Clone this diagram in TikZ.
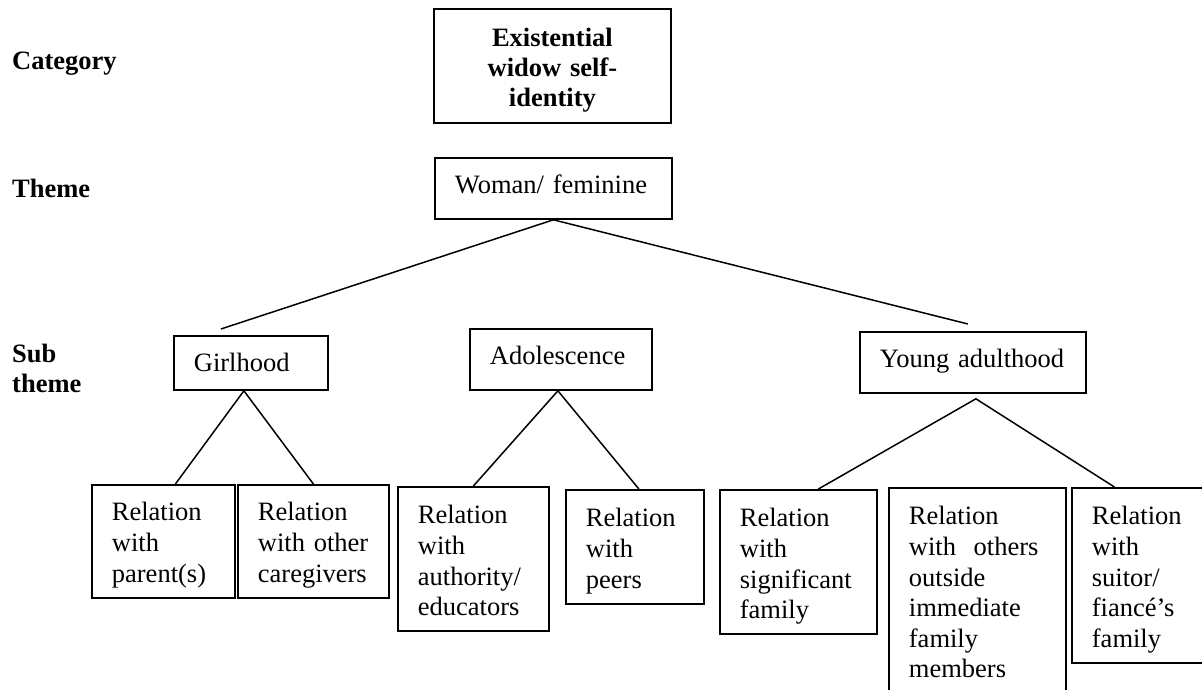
\documentclass[tikz,border=0pt]{standalone}
\usepackage{fontspec}
\setmainfont{Liberation Serif}

\begin{document}
\begin{tikzpicture}[x=1pt, y=-1pt, font=\fontsize{26.5pt}{30.6pt}\selectfont,
    box/.style={draw, line width=1.8pt, anchor=north west, align=left,
        inner xsep=20pt, inner ysep=0pt, text height=36pt},
    head/.style={anchor=base west, align=left, inner sep=0pt,
        font=\fontsize{26.5pt}{30pt}\selectfont\bfseries},
    link/.style={line width=1.5pt}]
    \useasboundingbox (0,0) rectangle (1202,689);

    % row labels
    \node[head] (cat) at (12,69) {Category};
    \node[head] (thm) at (12,197) {Theme};
    \node[head, text width=100pt] (sub) at (12,362) {Sub\\theme};

    % category and theme
    \node[box, align=center, text width=197pt, text height=38pt, text depth=76pt,
        font=\fontsize{26.5pt}{30pt}\selectfont\bfseries] (exist) at (433,8)
        {Existential\\widow self-\\identity};
    \node[box, text width=197pt, text depth=25pt] (woman) at (434,157) {Woman/ feminine};

    % sub themes
    \node[box, text width=114pt, text depth=18pt] (girl) at (173,335) {Girlhood};
    \node[box, text width=142pt, text depth=25pt] (adol) at (469,328) {Adolescence};
    \node[box, text width=186pt, text depth=25pt] (young) at (859,331) {Young adulthood};

    % relations
    \node[box, text width=103pt, text depth=77pt] (rel1) at (91,484)
        {Relation\\with\\parent(s)};
    \node[box, text width=111pt, text depth=77pt] (rel2) at (237,484)
        {Relation\\with other\\caregivers};
    \node[box, text width=111pt, text height=37pt, text depth=107pt] (rel3) at (397,486)
        {Relation\\with\\authority/\\educators};
    \node[box, text width=98pt, text height=37pt, text depth=77pt] (rel4) at (565,489)
        {Relation\\with\\peers};
    \node[box, text width=117pt, text height=37pt, text depth=107pt] (rel5) at (719,489)
        {Relation\\with\\significant\\family};
    \node[box, text width=137pt, text height=37pt, text depth=181pt] (rel6) at (888,487)
        {Relation\\with~ others\\outside\\immediate\\family\\members};
    \node[box, text width=101pt, text height=37pt, text depth=138pt] (rel7) at (1071,487)
        {Relation\\with\\suitor/\\fianc\'e’s\\family};

    % branches
    \draw[link] (woman.south) -- ([xshift=-30pt,yshift=6pt]girl.north);
    \draw[link] (woman.south) -- ([xshift=-5pt,yshift=7pt]young.north);
    \draw[link] (rel1.north) ++(12pt,0) -- ([xshift=-7pt]girl.south) -- (rel2.north);
    \draw[link] (rel3.north) -- ([xshift=-3pt]adol.south) -- ([xshift=4pt]rel4.north);
    \draw[link] ([xshift=20pt]rel5.north) -- ([xshift=3pt,yshift=-5pt]young.south)
        -- ([xshift=-28pt]rel7.north);
\end{tikzpicture}
\end{document}
